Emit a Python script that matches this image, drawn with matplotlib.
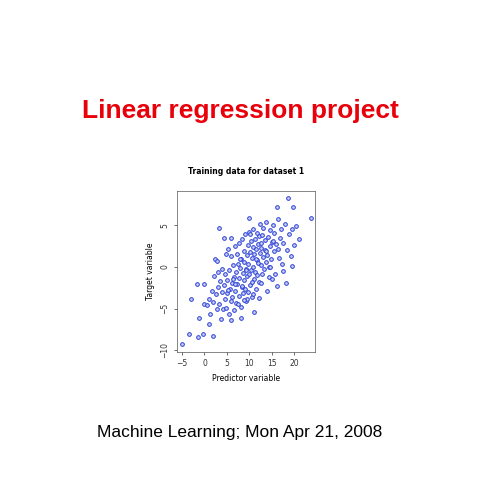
import matplotlib
matplotlib.use("Agg")
import matplotlib.pyplot as plt

# predictor / target values
predictor = [-5, -3.4, -3, -1.4, -1.3, -1.7, -0.4, 0, -0.2, 0.9, 1.8, 2.4, 9.9, 18.7, 19.7, 16.1,
             23.8, 16.1, 18.1, 19.4, 8.2, 5.9,
             0.5, 1, 1.3, 1.6, 2, 2.2, 2.5, 2.8, 3, 3.1, 3.3, 3.5, 3.6, 3.8, 4, 4.1, 4.3, 4.5,
             4.6, 4.8, 5, 5.1, 5.2, 5.4, 5.5, 5.7, 5.8, 6, 6.1, 6.2, 6.4, 6.5, 6.6, 6.8, 6.9,
             7, 7.1, 7.2, 7.3, 7.5, 7.6, 7.7, 7.8, 8, 8.1, 8.2, 8.3, 8.4, 8.5, 8.6, 8.7, 8.8,
             8.9, 9, 9.1, 9.2, 9.3, 9.4, 9.5, 9.6, 9.7, 9.8, 9.9, 10, 10.1, 10.2, 10.3, 10.4,
             10.5, 10.6, 10.7, 10.8, 10.9, 11, 11.1, 11.2, 11.3, 11.4, 11.5, 11.6, 11.7, 11.8,
             11.9, 12, 12.1, 12.2, 12.3, 12.4, 12.5, 12.6, 12.8, 12.9, 13, 13.1, 13.3, 13.4,
             13.5, 13.7, 13.8, 14, 14.1, 14.3, 14.5, 14.6, 14.8, 15, 15.2, 15.4, 15.6, 15.8,
             16, 16.3, 16.5, 16.8, 17, 17.3, 17.6, 18, 18.4, 18.8, 19.2, 19.6, 20, 20.5, 21,
             3.2, 4.4, 5.3, 6.3, 7.4, 8.4, 9.5, 10.5, 11.5, 12.7, 13.6, 14.4, 15.3, 16.4, 17.5,
             2.7, 4.9, 6.7, 8.9, 10.8, 12.2, 13.9, 15.1, 7.9, 9.2, 11.1, 12.5, 6.0, 10.1, 14.7]
target = [-9.3, -8, -3.9, -8.4, -6.1, -2.1, -8, -4.5, -2.1, -6.9, -8.3, 0.9, 5.9, 8.3, 7.2, 7.2,
          5.9, -2.3, -1.9, 0.1, -6.1, -6.4,
          -4.6, -3.8, -5.6, -2.9, -4.2, -1.1, -3.3, -5.1, -0.6, -2.4, -4.4, -1.7, -6.3, -3.0,
          -0.3, -5.0, -2.2, -3.8, -0.9, -4.9, -1.6, -3.1, 2.2, -5.6, -0.4, -2.7, -4.1, 1.3,
          -1.9, -3.6, 0.2, -5.2, -1.2, 2.5, -2.9, -0.6, -4.3, 1.6, -2.0, 0.4, -3.5, 2.9, -1.3,
          -0.1, -4.8, 1.0, -2.4, 3.4, -0.7, -3.1, 1.9, -1.6, 0.6, -2.6, 3.9, -0.2, -4.1, 1.4,
          -1.1, 2.6, -3.0, 0.3, 4.2, -0.8, 1.8, -2.2, 3.1, -0.4, 1.1, -3.6, 2.4, 0.0, 4.6,
          -1.5, 1.5, 3.3, -0.6, 2.1, -2.7, 0.8, 4.1, -1.0, 2.8, 0.5, 3.7, -1.8, 1.7, 5.1,
          0.2, 2.3, -0.9, 3.8, 1.2, 4.7, -0.3, 2.0, 3.2, 0.6, 5.4, 1.4, 3.6, -1.2, 2.5, 4.4,
          0.9, 3.0, 5.0, 1.9, 4.1, -0.8, 2.7, 5.7, 1.1, 3.5, 4.6, 0.4, 2.9, 5.2, 2.0, 3.9,
          1.3, 4.5, 2.6, 4.9, 3.3, 4.7, 3.5,
          -2.8, -1.4, -4.5, -2.3, -3.9, -1.8, 0.9, -1.9, 1.9, 0.0, 3.1, 2.2, -0.5, 0.7, 1.6,
          -2.0, -4.0, -3.3, -3.7, -2.9, -1.4, 1.0, -0.4, -5.4, 2.9, 3.5, 4.0, 0.0, 4.0, 3.4]
n = min(len(predictor), len(target))

fig = plt.figure(figsize=(4.8, 4.8), dpi=100)
fig.text(0.5, 0.755, "Linear regression project", color="#e8000b", fontsize=19,
         fontweight="bold", ha="center", family="Liberation Sans")
fig.text(0.5, 0.09, "Machine Learning; Mon Apr 21, 2008", fontsize=12.5, ha="center",
         family="Liberation Sans")

ax = fig.add_axes([0.369, 0.267, 0.287, 0.335])
ax.scatter(predictor[:n], target[:n], s=7, facecolors="#c8d0f0", edgecolors="#2a3fd8",
           linewidths=0.7)
ax.set_xlim(-6.1, 24.6)
ax.set_ylim(-10.2, 9.1)
ax.set_xticks([-5, 0, 5, 10, 15, 20])
ax.set_yticks([-10, -5, 0, 5])
ax.tick_params(labelsize=5.5, length=2, width=0.5, colors="#333333")
for lab in ax.get_yticklabels():
    lab.set_rotation(90)
    lab.set_va("center")
ax.set_title("Training data for dataset 1", fontsize=5.5, fontweight="bold", pad=12)
ax.set_xlabel("Predictor variable", fontsize=5.5)
ax.set_ylabel("Target variable", fontsize=5.5)
for sp in ax.spines.values():
    sp.set_linewidth(0.5)
    sp.set_color("#555555")

fig.savefig("out.png", dpi=100)
